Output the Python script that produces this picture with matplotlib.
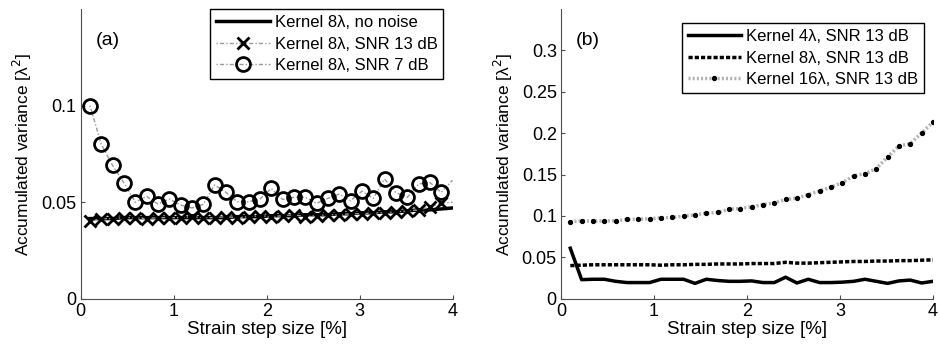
import numpy as np
import matplotlib
matplotlib.use("Agg")
import matplotlib.pyplot as plt

plt.rcParams['font.family'] = ['Liberation Sans', 'DejaVu Sans']

# strain step sizes [%]
strain = np.linspace(0.1, 4, 33)

# (a) kernel 8 lambda
a_no_noise = [0.0415, 0.0415, 0.0415, 0.042, 0.042, 0.042, 0.042, 0.042, 0.042, 0.042, 0.042,
              0.042, 0.042, 0.0425, 0.0425, 0.0425, 0.043, 0.043, 0.043, 0.0435, 0.0435, 0.0435,
              0.044, 0.044, 0.0445, 0.0445, 0.045, 0.045, 0.0455, 0.046, 0.046, 0.0465, 0.047]
a_snr13 = [0.040, 0.0415, 0.0415, 0.042, 0.042, 0.0415, 0.042, 0.042, 0.042, 0.0425, 0.042,
           0.042, 0.0425, 0.042, 0.0425, 0.043, 0.0425, 0.043, 0.0435, 0.0425, 0.043, 0.0435,
           0.0435, 0.044, 0.044, 0.0445, 0.0445, 0.045, 0.0455, 0.046, 0.0475, 0.0495, 0.050]
a_snr7 = [0.100, 0.080, 0.069, 0.060, 0.050, 0.053, 0.049, 0.0516, 0.0485, 0.047, 0.0489,
          0.0589, 0.0551, 0.0502, 0.0502, 0.0516, 0.0571, 0.0514, 0.0525, 0.0525, 0.0494, 0.052,
          0.0542, 0.0507, 0.0557, 0.052, 0.062, 0.0549, 0.0525, 0.0594, 0.0602, 0.0551, 0.0614]

# (b) SNR 13 dB, different kernels
b_k4 = [0.061, 0.023, 0.0235, 0.0235, 0.021, 0.0195, 0.0195, 0.0195, 0.0235, 0.0235, 0.0235,
        0.0185, 0.0235, 0.022, 0.021, 0.021, 0.0215, 0.0195, 0.0195, 0.026, 0.019, 0.0235,
        0.0195, 0.0195, 0.020, 0.021, 0.0235, 0.021, 0.0185, 0.0215, 0.0225, 0.019, 0.021]
b_k8 = [0.040, 0.0405, 0.041, 0.041, 0.041, 0.041, 0.041, 0.041, 0.0405, 0.041, 0.041,
        0.0415, 0.0415, 0.042, 0.042, 0.042, 0.0425, 0.0425, 0.0425, 0.044, 0.043, 0.043,
        0.0435, 0.044, 0.0445, 0.045, 0.045, 0.0455, 0.0455, 0.046, 0.046, 0.0465, 0.047]
b_k16 = [0.0929, 0.0941, 0.0937, 0.0941, 0.0941, 0.0958, 0.0962, 0.0966, 0.0978, 0.0982, 0.0998,
         0.1014, 0.1034, 0.1042, 0.1082, 0.1090, 0.1110, 0.1138, 0.1158, 0.1199, 0.1215, 0.1259,
         0.1303, 0.1348, 0.1404, 0.1484, 0.1512, 0.1573, 0.1714, 0.1846, 0.1874, 0.2003, 0.2135]

fig = plt.figure(figsize=(9.4, 3.46), dpi=100)
ax1 = fig.add_axes([0.0858, 0.1367, 0.3957, 0.837])
ax2 = fig.add_axes([0.5968, 0.1367, 0.3957, 0.837])

marks = list(range(len(strain) - 1))
leg_kw = dict(loc='upper right', fontsize=12, handlelength=3.2, fancybox=False,
              edgecolor='black', framealpha=1, borderaxespad=0, labelspacing=0.4,
              borderpad=0.35, handletextpad=0.3)

# ---- panel (a)
ax1.plot(strain, a_no_noise, color='black', lw=2.5, label='Kernel 8λ, no noise')
ax1.plot(strain, a_snr13, color='0.6', lw=1, ls=(0, (1, 1.5, 3, 1.5)), marker='x', ms=8,
         mew=2, mec='black', markevery=marks, label='Kernel 8λ, SNR 13 dB')
ax1.plot(strain, a_snr7, color='0.6', lw=1, ls=(0, (1, 1.5, 3, 1.5)), marker='o', ms=10,
         mew=2, mec='black', mfc='none', markevery=marks, label='Kernel 8λ, SNR 7 dB')
ax1.set_ylim(0, 0.15)
ax1.set_yticks([0, 0.05, 0.1])
ax1.set_yticklabels(['0', '0.05', '0.1'])
ax1.text(0.04, 0.875, '(a)', transform=ax1.transAxes, fontsize=14)
ax1.legend(bbox_to_anchor=(0.975, 1.0), **leg_kw)

# ---- panel (b)
ax2.plot(strain, b_k4, color='black', lw=2.5, label='Kernel 4λ, SNR 13 dB')
ax2.plot(strain, b_k8, color='black', lw=2.5, ls=(0, (1.2, 0.6)), label='Kernel 8λ, SNR 13 dB')
ax2.plot(strain, b_k16, color='0.7', lw=2.5, ls=(0, (0.6, 0.6)), marker='o', ms=2.8,
         mfc='black', mec='black', label='Kernel 16λ, SNR 13 dB')
ax2.set_ylim(0, 0.35)
ax2.set_yticks([0, 0.05, 0.1, 0.15, 0.2, 0.25, 0.3])
ax2.set_yticklabels(['0', '0.05', '0.1', '0.15', '0.2', '0.25', '0.3'])
ax2.text(0.04, 0.875, '(b)', transform=ax2.transAxes, fontsize=14)
ax2.legend(bbox_to_anchor=(0.976, 0.952), **leg_kw)

for ax in (ax1, ax2):
    ax.set_xlim(0, 4)
    ax.set_xticks([0, 1, 2, 3, 4])
    ax.set_xlabel('Strain step size [%]', fontsize=13.5, labelpad=1)
    ax.set_ylabel('Accumulated variance [λ$^2$]', fontsize=12.5, labelpad=5)
    ax.spines['top'].set_visible(False)
    ax.spines['right'].set_visible(False)
    for s in ('left', 'bottom'):
        ax.spines[s].set_color('0.3')
    ax.tick_params(direction='in', length=3, labelsize=13, color='0.3', pad=3)

fig.savefig('out.png', dpi=100)
